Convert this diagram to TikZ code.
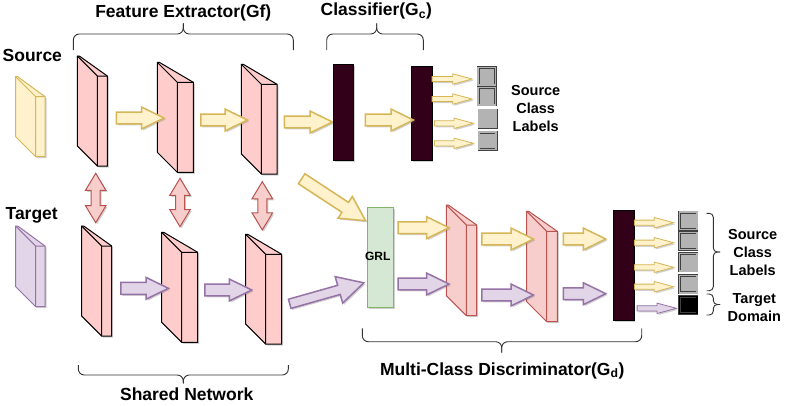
\documentclass[tikz,border=0pt]{standalone}
\usepackage{fontspec}
\setmainfont{Liberation Sans}
\usetikzlibrary{shapes.arrows,shadows}

\definecolor{yfill}{HTML}{FFF2CC}
\definecolor{yline}{HTML}{D6B656}
\definecolor{pfill}{HTML}{E1D5E7}
\definecolor{pline}{HTML}{9673A6}
\definecolor{rfill}{HTML}{F8CECC}
\definecolor{rline}{HTML}{B85450}
\definecolor{slabfill}{HTML}{FFCCCC}
\definecolor{gfill}{HTML}{D5E8D4}
\definecolor{gline}{HTML}{82B366}
\definecolor{barfill}{HTML}{33001A}
\definecolor{boxgray}{HTML}{B3B3B3}

\tikzset{
	shadowed/.style={drop shadow={shadow xshift=1.5pt, shadow yshift=-1.5pt, opacity=0.3, fill=black!60}},
	fe/.style={fill=slabfill, draw=black, line width=1pt},
	md/.style={fill=rfill, draw=rline, line width=1pt},
	srcslab/.style={fill=yfill, draw=yline, line width=1pt},
	tgtslab/.style={fill=pfill, draw=pline, line width=1pt},
	blockarrow/.style={single arrow, anchor=tail, inner sep=0pt, minimum width=0pt, shadowed},
	bigarrow/.style={blockarrow, inner ysep=5.2pt, single arrow head extend=5pt, single arrow tip angle=52, line width=1.5pt},
	smallarrow/.style={blockarrow, inner ysep=2.2pt, single arrow head extend=2.6pt, single arrow tip angle=30, line width=0.8pt},
	yarrow/.style={fill=yfill, draw=yline},
	parrow/.style={fill=pfill, draw=pline},
	dblarrow/.style={double arrow, inner sep=0pt, inner ysep=4pt, double arrow head extend=5.8pt, double arrow tip angle=62, rotate=90, fill=rfill, draw=rline, line width=1pt, shadowed},
	bar/.style={rectangle, inner sep=0pt, fill=barfill, draw=black, line width=0.8pt, minimum width=20.5pt, shadowed},
	lblbox/.style={rectangle, inner sep=0pt, minimum size=17.2pt, fill=boxgray, draw=black!75, double=boxgray, double distance=1.4pt, line width=0.7pt, shadowed},
	brace/.style={draw=black!80, line width=0.9pt, rounded corners=6pt},
	title/.style={font=\fontsize{17.5}{21}\selectfont\bfseries, inner sep=0pt, anchor=base},
	lbltext/.style={font=\fontsize{14.5}{18}\selectfont\bfseries, inner sep=0pt, align=center},
}

% slab: [style]{name}{left}{top}{right}{bottom}, depth 20
\newcommand{\slab}[6][]{%
	\filldraw[#1, shadowed] (#3,#4) -- ++(2,0) -- (#5,#4+20) -- (#5,#6) -- (#3+20,#6) -- (#3,#6-20) -- cycle;
	\draw[#1, fill=none] (#3,#4) -- (#3+20,#4+20) -- (#5,#4+20) (#3+20,#4+20) -- (#3+20,#6);
	\coordinate (#2) at ({(#3+#5)/2},{(#4+#6)/2});
}

\begin{document}
\begin{tikzpicture}[x=1pt, y=-1pt]
	\useasboundingbox[fill=white] (0,0) rectangle (802,405);

	% inputs
	\node[title] (source) at (32.3,61.7) {Source};
	\node[title] (target) at (31.7,219.3) {Target};
	\slab[srcslab]{src}{15.7}{76.7}{45}{156.7}
	\slab[tgtslab]{tgt}{15.7}{226}{45}{306.7}

	% feature extractor / shared network
	\slab[fe]{fe1}{77.3}{56}{107.3}{166}
	\slab[fe]{fe2}{157.3}{62.3}{193.3}{172.3}
	\slab[fe]{fe3}{241.3}{64.3}{277}{174}
	\slab[fe]{sh1}{81.7}{226}{111.7}{336}
	\slab[fe]{sh2}{161.7}{232.3}{197.7}{342.3}
	\slab[fe]{sh3}{245.7}{234.3}{281.7}{344}

	\node[dblarrow, minimum height=49.4] (share1) at (95.7,198) {};
	\node[dblarrow, minimum height=48.4] (share2) at (180,202.5) {};
	\node[dblarrow, minimum height=48.3] (share3) at (262.3,205.8) {};

	\node[bigarrow, yarrow, minimum height=47.6] (ya1) at (115.7,118) {};
	\node[bigarrow, yarrow, minimum height=46.7] (ya2) at (200,120) {};
	\node[bigarrow, yarrow, minimum height=48] (ya3) at (283.7,122) {};
	\node[bigarrow, parrow, minimum height=47.7] (pa1) at (120,288.3) {};
	\node[bigarrow, parrow, minimum height=47] (pa2) at (204,290) {};

	% classifier
	\node[bar, minimum height=96.4] (cls1) at (343.5,112.5) {};
	\node[bar, minimum height=94.7] (cls2) at (421.7,113.3) {};
	\node[bigarrow, yarrow, minimum height=48] (ya4) at (364.7,120) {};

	\node[smallarrow, yarrow, minimum height=40] (so1) at (431.7,79) {};
	\node[smallarrow, yarrow, minimum height=40] (so2) at (431.7,99) {};
	\node[smallarrow, yarrow, minimum height=39] (so3) at (434,123.3) {};
	\node[smallarrow, yarrow, minimum height=39] (so4) at (434,143.3) {};
	\node[lblbox] (sl1) at (486.7,76.3) {};
	\node[lblbox] (sl2) at (486.7,96.3) {};
	\node[lblbox] (sl3) at (487.5,118.5) {};
	\node[lblbox] (sl4) at (487.5,140.7) {};
	\node[lbltext] (srclabels) at (535.7,108.7) {Source\\Class\\Labels};

	% discriminator
	\node[bigarrow, yarrow, rotate=-33.3, minimum height=76.5, inner ysep=5.2pt, single arrow head extend=7pt, single arrow tip angle=56] (ydiag) at (301,178.3) {};
	\node[bigarrow, parrow, rotate=15.8, minimum height=77, inner ysep=4pt, single arrow head extend=9pt, single arrow tip angle=56] (pdiag) at (289,304) {};
	\node[rectangle, fill=gfill, draw=gline, line width=1pt, minimum width=26.3pt, minimum height=100pt, shadowed] (grl) at (380.5,257.3) {};
	\node[font=\fontsize{12}{14}\selectfont\bfseries, inner sep=0pt, anchor=base] (grltext) at (377.7,260) {GRL};

	\slab[md]{md1}{446.3}{205}{476.7}{315.7}
	\slab[md]{md2}{526.7}{211.3}{557.3}{321.7}
	\node[bar, minimum height=110.7] (dbar) at (623.7,265.3) {};

	\node[bigarrow, yarrow, minimum height=51] (dy1) at (397.3,227.7) {};
	\node[bigarrow, parrow, minimum height=51] (dp1) at (397.3,284) {};
	\node[bigarrow, yarrow, minimum height=51.7] (dy2) at (481,239) {};
	\node[bigarrow, parrow, minimum height=51.7] (dp2) at (481,295) {};
	\node[bigarrow, yarrow, minimum height=42.3] (dy3) at (562.7,239) {};
	\node[bigarrow, parrow, minimum height=42.3] (dp3) at (562.7,293.7) {};

	\node[smallarrow, yarrow, minimum height=39.3] (do1) at (634,222.7) {};
	\node[smallarrow, yarrow, minimum height=39.3] (do2) at (634,242.7) {};
	\node[smallarrow, yarrow, minimum height=39.3] (do3) at (634,267.3) {};
	\node[smallarrow, yarrow, minimum height=39.3] (do4) at (634,286.7) {};
	\node[smallarrow, parrow, minimum height=39.3] (do5) at (636.7,308.3) {};
	\node[lblbox] (dl1) at (688.3,220.7) {};
	\node[lblbox] (dl2) at (688.3,240.8) {};
	\node[lblbox] (dl3) at (688.3,262.3) {};
	\node[lblbox] (dl4) at (688.3,284.2) {};
	\node[lblbox, fill=black, double=black] (dl5) at (688.3,305) {};

	\draw[brace, rounded corners=4pt] (706.7,213.3) -| (713.3,252) -- (720,252);
	\draw[brace, rounded corners=4pt] (706.7,290.7) -| (713.3,252) -- (720,252);
	\draw[brace, rounded corners=4pt] (706.7,294) -| (713.3,304.5) -- (720,304.5);
	\draw[brace, rounded corners=4pt] (706.7,315) -| (713.3,304.5) -- (720,304.5);
	\node[lbltext] (dsrclabels) at (752.7,252.7) {Source\\Class\\Labels};
	\node[lbltext] (tgtdomain) at (754.3,307.7) {Target\\Domain};

	% braces and titles
	\draw[brace] (73.3,50) |- (183.3,34) -- (183.3,23.3);
	\draw[brace] (293.3,50) |- (183.3,34) -- (183.3,23.3);
	\draw[brace] (326.7,50) |- (376.7,34) -- (376.7,23.3);
	\draw[brace] (423.3,50) |- (376.7,34) -- (376.7,23.3);
	\draw[brace] (78.3,365) |- (183.3,375) -- (183.3,383.3);
	\draw[brace] (288.3,365) |- (183.3,375) -- (183.3,383.3);
	\draw[brace] (362.3,328.3) |- (501.7,341.7) -- (501.7,352.7);
	\draw[brace] (641.7,328.3) |- (501.7,341.7) -- (501.7,352.7);

	\node[title] (fetitle) at (183.3,17.3) {Feature Extractor(Gf)};
	\node[title] (clstitle) at (376.3,15.7) {Classifier(G\textsubscript{c})};
	\node[title] (shtitle) at (186.7,400.7) {Shared Network};
	\node[title] (mdtitle) at (502.2,375) {Multi-Class Discriminator(G\textsubscript{d})};
\end{tikzpicture}
\end{document}
